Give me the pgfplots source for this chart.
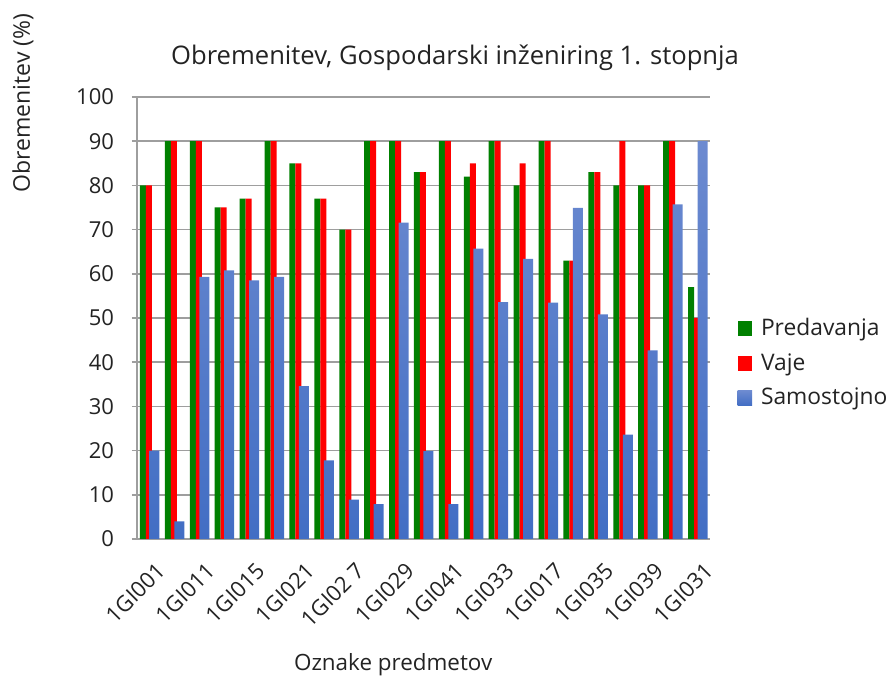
\documentclass[border=0pt]{standalone}
\usepackage{fontspec}
\setmainfont{Open Sans}
\usepackage{pgfplots}
\pgfplotsset{compat=1.18}
\definecolor{pgreen}{RGB}{0,128,0}
\definecolor{pred}{RGB}{255,0,0}
\definecolor{pbluetop}{RGB}{108,138,208}
\definecolor{pbluebot}{RGB}{66,110,196}
\definecolor{gridgray}{RGB}{158,158,158}
\definecolor{txt}{RGB}{35,35,35}

% 23 courses, in chart order
\pgfplotstableread{
x pred vaje samo
0 80 80 20
1 90 90 4
2 90 90 59.3
3 75 75 60.8
4 77 77 58.5
5 90 90 59.3
6 85 85 34.6
7 77 77 17.8
8 70 70 8.9
9 90 90 7.9
10 90 90 71.6
11 83 83 19.9
12 90 90 7.9
13 82 85 65.7
14 90 90 53.6
15 80 85 63.4
16 90 90 53.5
17 63 63 74.9
18 83 83 50.8
19 80 90 23.6
20 80 80 42.7
21 90 90 75.7
22 57 50 90
}\obrem

\begin{document}
\begin{tikzpicture}
\path[use as bounding box] (-68.5pt,-70pt) rectangle (376.5pt,269.5pt);
\begin{axis}[
 at={(0,0)}, anchor=south west,
 scale only axis, width=286.5pt, height=221pt,
 clip=false,
 xmin=-0.5, xmax=22.5, ymin=0, ymax=100,
 ytick={0,10,...,100},
 xtick={0,2,...,22},
 xticklabels={1GI001,1GI011,1GI015,1GI021,{1GI02 7},1GI029,1GI041,1GI033,1GI017,1GI035,1GI039,1GI031},
 axis x line*=bottom, axis y line*=left,
 axis line style={draw=gridgray,line width=0.75pt,-},
 ymajorgrids=true, grid style={draw=gridgray,line width=0.75pt},
 ytick style={draw=gridgray,line width=0.75pt},
 xtick style={draw=none},
 tick align=outside, major tick length=2.5pt,
 tick label style={font=\fontsize{11}{13}\selectfont,text=txt},
 /pgf/number format/assume math mode=true,
 yticklabel style={xshift=-5.5pt},
 xticklabel style={rotate=45,anchor=north east,inner sep=0pt,xshift=-4pt,yshift=-8pt},
 legend style={at={(rel axis cs:1.037,0.398)},anchor=west,draw=none,fill=none,
   font=\fontsize{11.4}{13}\selectfont,text=txt,row sep=3.5pt,
   /tikz/every odd column/.append style={column sep=2.5pt}},
 legend cell align=left,
]
\addplot[ybar,bar width=3pt,bar shift=-3.25pt,fill=pgreen,draw=none,
 legend image code/.code={\fill[pgreen] (0pt,-3.6pt) rectangle (7.2pt,3.6pt);}]
 table[x=x,y=pred]{\obrem};
\addplot[ybar,bar width=3pt,bar shift=-0.25pt,fill=pred,draw=none,
 legend image code/.code={\fill[pred] (0pt,-3.6pt) rectangle (7.2pt,3.6pt);}]
 table[x=x,y=vaje]{\obrem};
\addplot[ybar,bar width=5pt,bar shift=2.5pt,top color=pbluetop,bottom color=pbluebot,draw=none,
 legend image code/.code={\fill[top color=pbluetop,bottom color=pbluebot] (0pt,-3.6pt) rectangle (7.2pt,3.6pt);}]
 table[x=x,y=samo]{\obrem};
\legend{Predavanja,Vaje,Samostojno}

\node[font=\fontsize{12.8}{15}\selectfont,text=txt] at (rel axis cs:0.555,1.088)
 {Obremenitev, Gospodarski inženiring 1. stopnja};
\node[font=\fontsize{11.5}{13}\selectfont,text=txt,rotate=90] at (rel axis cs:-0.199,0.986)
 {Obremenitev (\%)};
\node[font=\fontsize{11.2}{13}\selectfont,text=txt] at (rel axis cs:0.447,-0.285)
 {Oznake predmetov};
\end{axis}
\end{tikzpicture}
\end{document}
